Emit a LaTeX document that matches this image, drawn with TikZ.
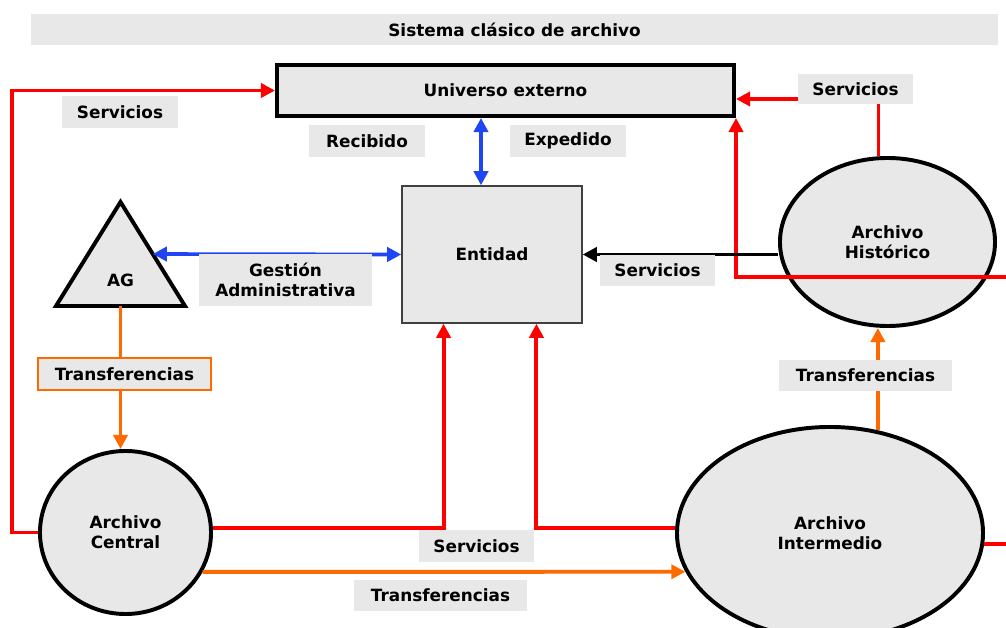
\documentclass[tikz,border=0pt]{standalone}
\usepackage{fontspec}
\setmainfont{DejaVu Sans}
\usetikzlibrary{arrows.meta,shapes.geometric,calc}
\definecolor{boxgray}{HTML}{E8E8E8}
\definecolor{arrred}{HTML}{FF0000}
\definecolor{arrorange}{HTML}{FF6A00}
\definecolor{arrblue}{HTML}{1F45F5}

\begin{document}
\begin{tikzpicture}[
  x=0.025cm, y=-0.025cm,
  font=\fontsize{12}{14.5}\selectfont\bfseries,
  >={Triangle[length=10pt,width=10pt]},
  lbl/.style={rectangle, fill=boxgray, inner sep=0pt, minimum width=2.9cm,
              minimum height=0.8cm, align=center},
  widelbl/.style={lbl, minimum width=4.325cm},
  archivo/.style={ellipse, draw=black, line width=2.8pt, fill=boxgray,
                  align=center, inner sep=0pt},
  redline/.style={draw=arrred, line width=2.8pt},
  orangeline/.style={draw=arrorange, line width=2.8pt},
  blueline/.style={draw=arrblue, line width=2.6pt},
  blackline/.style={draw=black, line width=2.8pt},
]
\useasboundingbox (0,0) rectangle (1006,628);
\clip (0,0) rectangle (1006,628);

% ===== title bar =====
\node[fill=boxgray, minimum width=24.175cm, minimum height=0.775cm] (titulo)
  at (514.5,29.5) {Sistema clásico de archivo};

% ===== boxes =====
\node[rectangle, draw=black, line width=2.8pt, fill=boxgray,
      minimum width=11.425cm, minimum height=1.275cm] (univ) at (505.5,90.5) {Universo externo};
\node[rectangle, draw=black!75, line width=1pt, fill=boxgray,
      minimum width=4.5cm, minimum height=3.425cm] (entidad) at (492,254.5) {Entidad};

% ===== AG triangle =====
\node[isosceles triangle, isosceles triangle stretches, shape border rotate=90,
      minimum width=3.225cm, minimum height=2.6cm, draw=black, line width=2.8pt,
      fill=boxgray, inner sep=0pt, outer sep=0pt, anchor=apex] (tri) at (120.5,202) {};
\node (ag) at (120.5,280) {AG};

% ===== archives =====
\node[archivo, minimum width=4.275cm, minimum height=4.075cm] (central) at (125.5,532.5) {Archivo\\Central};
\node[archivo, minimum width=7.65cm, minimum height=5.3cm] (intermedio) at (830,533) {Archivo\\Intermedio};
\node[archivo, minimum width=5.375cm, minimum height=4.2cm] (historico) at (887.5,242) {Archivo\\Histórico};

% ===== servicios (red) =====
\coordinate (bordeder) at (1015,277);
\draw[redline,->] (central.west) -- ++(-26,0) |- (univ.west);
\draw[redline,->] (central.3) -| ($(entidad.south west)!0.233!(entidad.south east)$);
\draw[redline,->] (intermedio.178) -| ($(entidad.south west)!0.745!(entidad.south east)$);
\draw[redline] (intermedio.-4) -- ++(40,0);
\draw[redline,->] (bordeder) -| (univ.south east);
\draw[redline,->] (historico.96) |- ([yshift=-0.2125cm]univ.east);
\draw[blackline,->] (entidad.east -| historico.west) -- (entidad.east);

% ===== gestion / recibido-expedido (blue) =====
\draw[blueline,<->] (tri.right side) -- (entidad.west);
\draw[blueline,<->] ([xshift=-0.275cm]entidad.north) -- ([xshift=-0.275cm]entidad.north |- univ.south);

% ===== transferencias (orange) =====
\draw[orangeline,->] (tri.lower side) -- (tri.lower side |- central.north);
\draw[orangeline,->] (central.-27) -- (intermedio.195);
\draw[orangeline,->] (intermedio.65) -- (intermedio.65 |- historico.south);

% ===== labels =====
\node[lbl] (servA) at (120,112.5) {Servicios};
\node[lbl] (recibido) at (367,141) {Recibido};
\node[lbl] (expedido) at (568,141) {Expedido};
\node[widelbl, minimum height=1.3cm] (gestion) at (285.5,280) {Gestión\\Administrativa};
\node[widelbl, draw=arrorange, line width=0.8pt] (transA) at (124.5,374) {Transferencias};
\node[lbl, minimum width=2.875cm, minimum height=0.75cm] (servB) at (855.5,89) {Servicios};
\node[lbl, minimum width=2.875cm, minimum height=0.75cm] (servC) at (657.5,270.5) {Servicios};
\node[widelbl, minimum height=0.775cm] (transB) at (865.5,375.5) {Transferencias};
\node[lbl, minimum width=2.875cm] (servD) at (476.5,546) {Servicios};
\node[widelbl, minimum height=0.775cm] (transC) at (440.5,595.5) {Transferencias};
\end{tikzpicture}
\end{document}
